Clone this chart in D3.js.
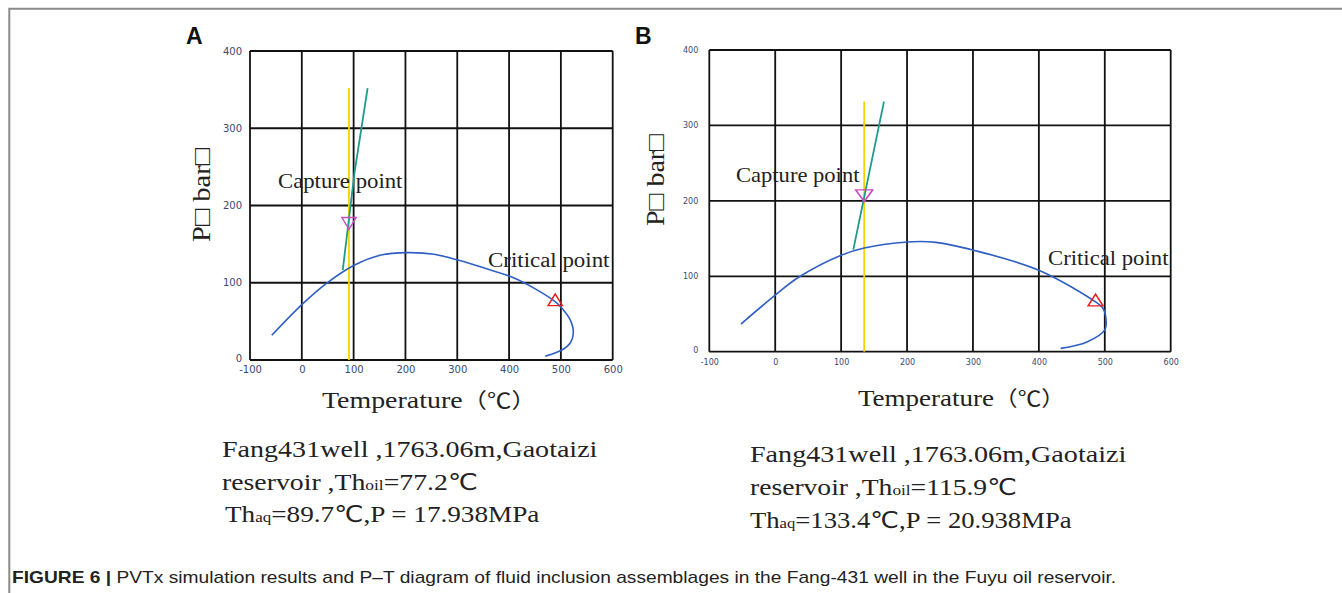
<!DOCTYPE html>
<html><head><meta charset="utf-8">
<script src="https://cdn.jsdelivr.net/npm/d3@7"></script>
<style>body{margin:0;background:#fff}</style>
</head><body>
<svg id="c" width="1342" height="593"></svg>
<script>
// ---------- data ----------
const tempTicks = [-100, 0, 100, 200, 300, 400, 500, 600];
const presTicks = [0, 100, 200, 300, 400];

// Panel A : phase envelope (T °C, P bar)
const envA_T = [-58, 2, 47, 102, 153, 204, 255, 303, 352, 403, 448, 489, 502, 518, 524, 518, 502, 470];
const envA_P = [32, 73, 99, 123, 136, 139, 137, 129, 119, 108, 93, 75.5, 67, 52, 37, 22, 13, 5];
const isoA_T = [79, 102, 127];
const isoA_P = [116.5, 244, 352];
const thaqA_T = [91, 91];
const thaqA_P = [0, 352];
const captureA = [91, 179.4];
const criticalA = [489, 75.5];

// Panel B
const envB_T = [-52, 0, 36, 100, 135, 200, 244, 301, 400, 486, 497, 502, 500, 473, 433];
const envB_P = [36.6, 75, 99, 128, 137.5, 145.5, 145, 134.5, 108, 66, 58, 42, 29, 13, 4.4];
const isoB_T = [118.5, 165];
const isoB_P = [135.4, 331.6];
const thaqB_T = [135, 135];
const thaqB_P = [0, 331.6];
const captureB = [135, 209.4];
const criticalB = [486, 66];

const panelLetters = ["A", "B"];
const yTitle = "P\u25A1 bar\u25A1";
const captureLabel = "Capture point";
const criticalLabel = "Critical point";
const line1 = "Fang431well ,1763.06m,Gaotaizi";
const thoilA = "77.2", thoilB = "115.9";
const thaqA = "89.7", thaqB = "133.4";
const pressA = "17.938", pressB = "20.938";
const captionBold = "FIGURE 6 | ";
const captionText = "PVTx simulation results and P\u2013T diagram of fluid inclusion assemblages in the Fang-431 well in the Fuyu oil reservoir.";

// ---------- drawing ----------
const svg = d3.select("#c");
const serif = "'Liberation Serif','Times New Roman',serif";
const tickCol = "#3a4a70";

svg.append("path").attr("d", "M9.3,593V8.7H1342").attr("fill", "none")
   .attr("stroke", "#8a8a8a").attr("stroke-width", 2);

function fit(sel, x, w) {
  const bb = sel.node().getBBox();
  const s = w / bb.width;
  sel.attr("transform", `translate(${x},0) scale(${s},1) translate(${-x},0)`);
}

const zip = (a, b) => a.map((v, i) => [v, b[i]]);

function panel(cfg) {
  const x = d3.scaleLinear().domain([-100, 600]).range([cfg.x0, cfg.x1]);
  const y = d3.scaleLinear().domain([0, 400]).range([cfg.yb, cfg.yt]);
  const g = svg.append("g");

  // grid
  g.selectAll(".gv").data(tempTicks).join("line")
    .attr("x1", d => x(d)).attr("x2", d => x(d)).attr("y1", y(0)).attr("y2", y(400))
    .attr("stroke", "#111").attr("stroke-width", 1.8);
  g.selectAll(".gh").data(presTicks).join("line")
    .attr("y1", d => y(d)).attr("y2", d => y(d)).attr("x1", x(-100)).attr("x2", x(600))
    .attr("stroke", "#111").attr("stroke-width", 1.8);

  // axes tick labels
  const ax = g.append("g").attr("transform", `translate(0,${cfg.yb})`)
    .call(d3.axisBottom(x).tickValues(tempTicks).tickSize(0).tickPadding(cfg.xpad).tickFormat(d => String(d)));
  const ay = g.append("g").attr("transform", `translate(${cfg.x0},0)`)
    .call(d3.axisLeft(y).tickValues(presTicks).tickSize(0).tickPadding(cfg.ypad).tickFormat(d => String(d)));
  [ax, ay].forEach(a => {
    a.select(".domain").remove();
    a.selectAll("text").attr("fill", tickCol).attr("font-family", "'DejaVu Sans',sans-serif")
      .attr("font-size", cfg.tickFs);
  });
  ay.selectAll("text").attr("dy", d => d === 0 ? "0.1em" : "0.32em");

  const line = d3.line().x(d => x(d[0])).y(d => y(d[1]));
  // yellow Th_aq line
  g.append("path").attr("d", line(zip(cfg.thT, cfg.thP))).attr("fill", "none")
    .attr("stroke", "#f2d400").attr("stroke-width", 1.8);
  // teal isochore
  g.append("path").attr("d", line(zip(cfg.isoT, cfg.isoP))).attr("fill", "none")
    .attr("stroke", "#1f9a8c").attr("stroke-width", 1.8);
  // blue envelope
  g.append("path").attr("d", line.curve(d3.curveCatmullRom.alpha(0.5))(zip(cfg.envT, cfg.envP)))
    .attr("fill", "none").attr("stroke", "#2f5fc4").attr("stroke-width", 1.6);

  const tri = d3.symbol().type(d3.symbolTriangle).size(cfg.triSize);
  g.append("path").attr("d", tri()).attr("fill", "none").attr("stroke", "#c84cc8").attr("stroke-width", 1.4)
    .attr("transform", `translate(${x(cfg.capture[0])},${y(cfg.capture[1])}) scale(${cfg.capSx},1) rotate(180)`);
  g.append("path").attr("d", tri()).attr("fill", "none").attr("stroke", "#e4201c").attr("stroke-width", 1.4)
    .attr("transform", `translate(${x(cfg.critical[0])},${y(cfg.critical[1])}) scale(${cfg.critSx},1)`);

  // labels in plot
  const cap = g.append("text").attr("x", cfg.capL[0]).attr("y", cfg.capL[1]).text(captureLabel)
    .attr("font-family", serif).attr("font-size", 20).attr("fill", "#222");
  fit(cap, cfg.capL[0], cfg.capL[2]);
  const cri = g.append("text").attr("x", cfg.criL[0]).attr("y", cfg.criL[1]).text(criticalLabel)
    .attr("font-family", serif).attr("font-size", 20).attr("fill", "#222");
  fit(cri, cfg.criL[0], cfg.criL[2]);

  // panel letter
  g.append("text").attr("x", cfg.letter[0]).attr("y", cfg.letter[1]).text(cfg.letterText)
    .attr("font-family", "'Liberation Sans',Arial,sans-serif").attr("font-weight", "bold")
    .attr("font-size", 23).attr("fill", "#111");

  // y title
  g.append("text").attr("transform", `translate(${cfg.yt0[0]},${cfg.yt0[1]}) rotate(-90)`)
    .attr("text-anchor", "middle").attr("dy", "0.35em").text(yTitle)
    .attr("font-family", serif).attr("font-size", 25).attr("fill", "#222")
    .attr("textLength", cfg.yt0[2]).attr("lengthAdjust", "spacingAndGlyphs");

  // x title
  const xt = g.append("text").attr("x", cfg.xt0[0]).attr("y", cfg.xt0[1])
    .attr("font-family", serif).attr("font-size", 24).attr("fill", "#222");
  xt.append("tspan").text("Temperature");
  xt.append("tspan").attr("font-family", "'Noto Sans CJK SC',sans-serif").attr("font-size", 21).text("\uFF08\u2103\uFF09");
  fit(xt, cfg.xt0[0], cfg.xt0[2]);

  // description lines
  const t1 = g.append("text").attr("x", cfg.l1[0]).attr("y", cfg.l1[1]).text(line1)
    .attr("font-family", serif).attr("font-size", 24).attr("fill", "#222");
  fit(t1, cfg.l1[0], cfg.l1[2]);
  const t2 = g.append("text").attr("x", cfg.l2[0]).attr("y", cfg.l2[1])
    .attr("font-family", serif).attr("font-size", 24).attr("fill", "#222");
  t2.append("tspan").text("reservoir ,Th");
  t2.append("tspan").attr("font-size", 15).text("oil");
  t2.append("tspan").text("=" + cfg.thoil);
  t2.append("tspan").attr("font-family", "'DejaVu Sans',sans-serif").attr("font-size", 23).text("\u2103");
  fit(t2, cfg.l2[0], cfg.l2[2]);
  const t3 = g.append("text").attr("x", cfg.l3[0]).attr("y", cfg.l3[1])
    .attr("font-family", serif).attr("font-size", 24).attr("fill", "#222");
  t3.append("tspan").text("Th");
  t3.append("tspan").attr("font-size", 15).text("aq");
  t3.append("tspan").text("=" + cfg.thaq);
  t3.append("tspan").attr("font-family", "'DejaVu Sans',sans-serif").attr("font-size", 23).text("\u2103");
  t3.append("tspan").text(",P = " + cfg.press + "MPa");
  fit(t3, cfg.l3[0], cfg.l3[2]);
}

panel({
  x0: 250, x1: 612.7, yb: 360, yt: 51, xpad: 6, ypad: 8, tickFs: 10,
  envT: envA_T, envP: envA_P, isoT: isoA_T, isoP: isoA_P, thT: thaqA_T, thP: thaqA_P,
  capture: captureA, critical: criticalA, triSize: 80, capSx: 1.05, critSx: 1.05,
  capL: [278, 188, 125], criL: [488, 267, 122],
  letter: [186, 44], letterText: panelLetters[0],
  yt0: [201, 195, 94], xt0: [322, 408, 214],
  l1: [222, 457, 376], l2: [222, 490, 256], l3: [225, 522, 315],
  thoil: thoilA, thaq: thaqA, press: pressA
});
panel({
  x0: 709.3, x1: 1170.7, yb: 351.7, yt: 50, xpad: 8, ypad: 11, tickFs: 8,
  envT: envB_T, envP: envB_P, isoT: isoB_T, isoP: isoB_P, thT: thaqB_T, thP: thaqB_P,
  capture: captureB, critical: criticalB, triSize: 80, capSx: 1.25, critSx: 1.1,
  capL: [736, 182.5, 124], criL: [1048, 265.5, 121],
  letter: [635, 44], letterText: panelLetters[1],
  yt0: [655, 180, 92], xt0: [858, 406.5, 207],
  l1: [750, 462, 377], l2: [750, 495, 267], l3: [750, 528, 322],
  thoil: thoilB, thaq: thaqB, press: pressB
});

// caption
const cap = svg.append("text").attr("x", 12).attr("y", 583)
  .attr("font-family", "'Liberation Sans Narrow','Liberation Sans',Arial,sans-serif")
  .attr("font-size", 16).attr("fill", "#222");
cap.append("tspan").attr("font-weight", "bold").text(captionBold);
cap.append("tspan").text(captionText);
fit(cap, 12, 1105);
</script>
</body></html>
